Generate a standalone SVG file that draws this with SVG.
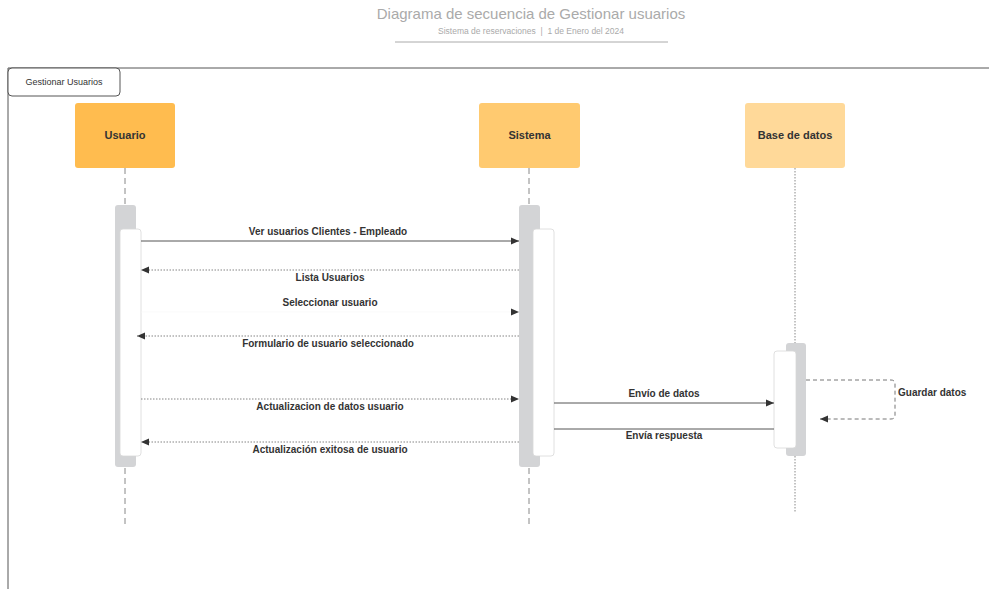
<svg xmlns="http://www.w3.org/2000/svg" width="989" height="589" viewBox="0 0 989 589">
<style>
text{font-family:"Liberation Sans",Arial,sans-serif;}
.lbl{font-size:10px;font-weight:bold;fill:#333;text-anchor:middle;}
.node text{font-size:11px;font-weight:bold;fill:#333;text-anchor:middle;}
.ll{stroke:#888;stroke-width:1;fill:none;}
.act{fill:#d3d4d6;}
.inner{fill:#fff;stroke:#d8d8d8;stroke-width:0.8;}
.sol{stroke:#555;stroke-width:1;fill:none;}
.dot{stroke:#666;stroke-width:0.8;stroke-dasharray:1.5 1.5;fill:none;}
</style>
<defs>
<marker id="ah" markerWidth="8" markerHeight="8" refX="8" refY="4" orient="auto" markerUnits="userSpaceOnUse">
<path d="M0,0.5 L8,4 L0,7.5 Z" fill="#333"/>
</marker>
</defs>
<rect width="989" height="589" fill="#fff"/>
<g id="title">
<text x="531" y="19" font-size="15" fill="#aaa" text-anchor="middle">Diagrama de secuencia de Gestionar usuarios</text>
<text x="531" y="34" font-size="8.5" fill="#aaa" text-anchor="middle">Sistema de reservaciones&#160;&#160;|&#160;&#160;1 de Enero del 2024</text>
<line x1="395" y1="42" x2="668" y2="42" stroke="#aaa" stroke-width="1"/>
</g>
<g id="frame">
<path d="M8,589 V68 H989" fill="none" stroke="#555" stroke-width="1"/>
<rect x="8" y="68" width="112" height="28" rx="4" fill="#fff" stroke="#555" stroke-width="1"/>
<text x="64" y="85" font-size="9" fill="#333" text-anchor="middle">Gestionar Usuarios</text>
</g>
<g id="lifelines">
<line class="ll" x1="125" y1="168" x2="125" y2="524" stroke-dasharray="6 4"/>
<line class="ll" x1="529" y1="168" x2="529" y2="524" stroke-dasharray="6 4"/>
<line class="ll" x1="795" y1="168" x2="795" y2="513" stroke-dasharray="1.5 1.5"/>
</g>
<g id="usuario" class="node">
<rect x="75" y="103" width="100" height="65" rx="3" fill="#FFBC4F"/>
<text x="125" y="139">Usuario</text>
<rect class="act" x="115" y="205" width="21" height="262" rx="3"/>
<rect class="inner" x="120" y="229" width="21" height="227" rx="3"/>
</g>
<g id="sistema" class="node">
<rect x="479" y="103" width="101" height="65" rx="3" fill="#FFCA70"/>
<text x="529.5" y="139">Sistema</text>
<rect class="act" x="519" y="205" width="21" height="262" rx="3"/>
<rect class="inner" x="533" y="229" width="21" height="227" rx="3"/>
</g>
<g id="basedatos" class="node">
<rect x="745" y="103" width="100" height="65" rx="3" fill="#FFD999"/>
<text x="795" y="139">Base de datos</text>
<rect class="act" x="786" y="343" width="20" height="113" rx="3"/>
<rect class="inner" x="774" y="351" width="22" height="97" rx="3"/>
</g>
<g id="connectors">
<line class="sol" x1="141" y1="241" x2="519" y2="241" marker-end="url(#ah)"/>
<text class="lbl" x="328" y="235">Ver usuarios Clientes - Empleado</text>
<line class="dot" x1="519" y1="270" x2="141" y2="270" marker-end="url(#ah)"/>
<text class="lbl" x="330" y="281">Lista Usuarios</text>
<line x1="141" y1="312" x2="519" y2="312" stroke="#f6f6f6" stroke-width="0.6" marker-end="url(#ah)"/>
<text class="lbl" x="330" y="306">Seleccionar usuario</text>
<line class="dot" x1="519" y1="336" x2="137" y2="336" marker-end="url(#ah)"/>
<text class="lbl" x="328" y="347">Formulario de usuario seleccionado</text>
<line class="dot" x1="141" y1="399" x2="519" y2="399" marker-end="url(#ah)"/>
<text class="lbl" x="330" y="410">Actualizacion de datos usuario</text>
<line class="dot" x1="519" y1="442" x2="141" y2="442" marker-end="url(#ah)"/>
<text class="lbl" x="330" y="453">Actualización exitosa de usuario</text>
<line class="sol" x1="554" y1="403" x2="774" y2="403" marker-end="url(#ah)"/>
<text class="lbl" x="664" y="397">Envío de datos</text>
<line class="sol" x1="774" y1="429" x2="554" y2="429"/>
<text class="lbl" x="664" y="439">Envía respuesta</text>
<path d="M806,380 H891 Q895,380 895,384 V415 Q895,419 891,419 H820" fill="none" stroke="#666" stroke-width="0.9" stroke-dasharray="4 3" marker-end="url(#ah)"/>
<text class="lbl" x="898" y="396" style="text-anchor:start">Guardar datos</text>
</g>
</svg>
